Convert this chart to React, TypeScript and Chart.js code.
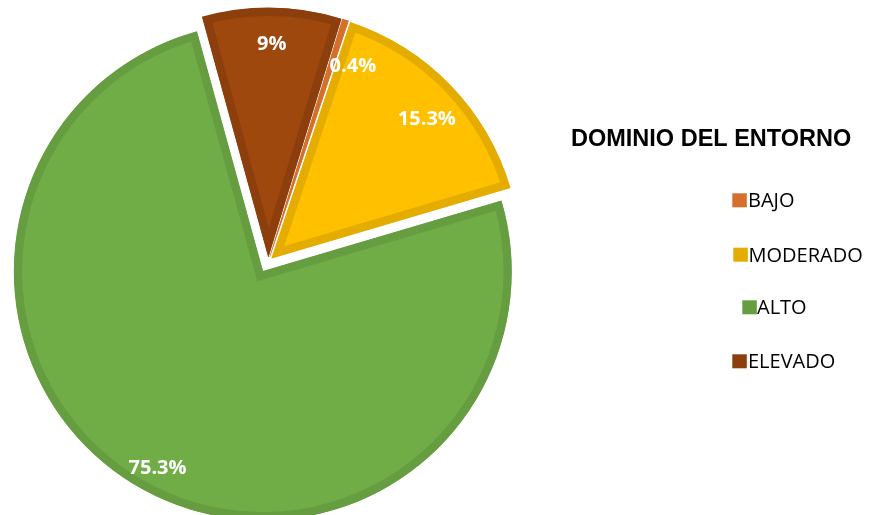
import React, { useEffect, useRef } from "react";
import { Chart, registerables } from "chart.js";

Chart.register(...registerables);

// ---- data ----
const categories = ["BAJO", "MODERADO", "ALTO", "ELEVADO"];
const percentages = [0.4, 15.3, 75.3, 9];
const valueLabels = ["0.4%", "15.3%", "75.3%", "9%"];
const legendTitle = "DOMINIO DEL ENTORNO";

// ---- styles ----
const fillColors = ["#ED7D31", "#FFC000", "#70AD47", "#9E480E"];
const borderColors = ["#D46F2C", "#E5AC00", "#659D40", "#8C3F0C"];
const explodePx = [4.8, 4.7, 11.3, 4.8]; // slice pull-out distance along its mid angle
const RADIUS = 249;
const LABEL_PLACEMENT: [number, number][] = [
  [0.84, 5.7],
  [0.84, 1.9],
  [0.89, -0.7],
  [0.86, 0.1],
];
const LEGEND_LAYOUT = [
  { boxX: 732.3, baseline: 207.3, textX: 748 },
  { boxX: 733.3, baseline: 261.7, textX: 748.5 },
  { boxX: 742.3, baseline: 314.3, textX: 757 },
  { boxX: 732.3, baseline: 368.3, textX: 748 },
];

const explodePlugin = {
  id: "explodeSlices",
  beforeDatasetsDraw(chart: any) {
    const area = chart.chartArea;
    const cx = (area.left + area.right) / 2;
    const cy = (area.top + area.bottom) / 2;
    const meta = chart.getDatasetMeta(0);
    meta.data.forEach((arc: any, i: number) => {
      const mid = (arc.startAngle + arc.endAngle) / 2;
      arc.x = cx + Math.cos(mid) * explodePx[i];
      arc.y = cy + Math.sin(mid) * explodePx[i];
    });
  },
};

const valueLabelPlugin = {
  id: "valueLabels",
  afterDatasetsDraw(chart: any) {
    const ctx = chart.ctx;
    const meta = chart.getDatasetMeta(0);
    ctx.save();
    ctx.font = 'bold 20px "Open Sans"';
    ctx.fillStyle = "#ffffff";
    ctx.textAlign = "center";
    ctx.textBaseline = "alphabetic";
    meta.data.forEach((arc: any, i: number) => {
      const mid = (arc.startAngle + arc.endAngle) / 2;
      const [f, dDeg] = LABEL_PLACEMENT[i];
      const a = mid + (dDeg * Math.PI) / 180;
      const lx = arc.x + Math.cos(a) * f * RADIUS;
      const ly = arc.y + Math.sin(a) * f * RADIUS;
      ctx.fillText(valueLabels[i], lx, ly + 0.357 * 20);
    });
    ctx.restore();
  },
};

const legendPlugin = {
  id: "customLegend",
  afterDraw(chart: any) {
    const ctx = chart.ctx;
    ctx.save();
    ctx.fillStyle = "#000000";
    ctx.font = 'bold 23.5px "Liberation Sans", Arial, sans-serif';
    ctx.textAlign = "left";
    ctx.textBaseline = "alphabetic";
    ctx.fillText(legendTitle, 571, 146);

    ctx.font = '20px "Open Sans"';
    categories.forEach((name, i) => {
      const L = LEGEND_LAYOUT[i];
      ctx.fillStyle = borderColors[i];
      ctx.fillRect(L.boxX, L.baseline - 14, 14.5, 14);
      ctx.fillStyle = "#000000";
      ctx.fillText(name, L.textX, L.baseline);
    });
    ctx.restore();
  },
};

export default function App() {
  const canvasRef = useRef<HTMLCanvasElement | null>(null);

  useEffect(() => {
    document.body.style.margin = "0";
    const canvas = canvasRef.current;
    if (!canvas) return;
    const chart = new Chart(canvas, {
      type: "pie",
      data: {
        labels: categories,
        datasets: [
          {
            data: percentages,
            backgroundColor: fillColors,
            borderColor: borderColors,
            borderWidth: 8,
            borderAlign: "inner",
            borderJoinStyle: "miter",
            offset: 0,
          } as any,
        ],
      },
      options: {
        animation: false,
        responsive: false,
        devicePixelRatio: 1,
        rotation: 17,
        radius: RADIUS,
        layout: { padding: { left: 0, right: 333.4, top: 8, bottom: 0 } },
        plugins: {
          legend: { display: false },
          tooltip: { enabled: false },
        },
      } as any,
      plugins: [explodePlugin, valueLabelPlugin, legendPlugin],
    });
    return () => chart.destroy();
  }, []);

  return (
    <div style={{ position: "absolute", left: 0, top: 0, width: 870, height: 515, background: "#ffffff" }}>
      <canvas ref={canvasRef} width={870} height={515} style={{ display: "block" }} />
    </div>
  );
}
